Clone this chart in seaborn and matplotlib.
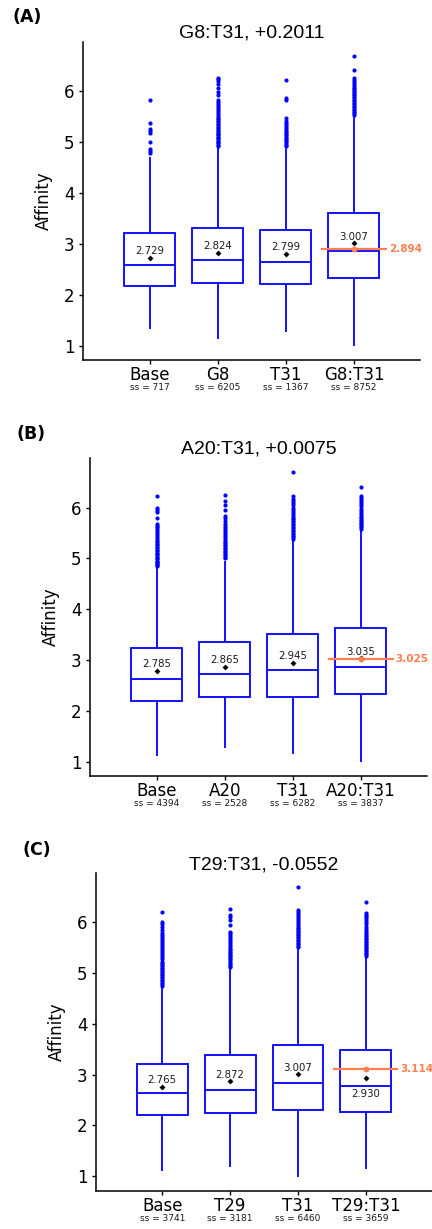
import numpy as np
import pandas as pd
import matplotlib
matplotlib.use("Agg")
import matplotlib.pyplot as plt
import seaborn as sns
from matplotlib.transforms import blended_transform_factory

# ---------------- data ----------------
panel_letters = ["(A)", "(B)", "(C)"]
titles = ["G8:T31, +0.2011", "A20:T31, +0.0075", "T29:T31, -0.0552"]

cats_A = ["Base", "G8", "T31", "G8:T31"]
ss_A = [717, 6205, 1367, 8752]
low_A = [1.32, 1.12, 1.26, 1.00]
q1_A = [2.17, 2.23, 2.20, 2.32]
med_A = [2.585, 2.68, 2.645, 2.856]
q3_A = [3.205, 3.30, 3.28, 3.60]
high_A = [4.71, 4.88, 4.88, 5.50]
means_A = [2.729, 2.824, 2.799, 3.007]
expected_A = 2.894
out_A = [
    [4.79, 4.83, 4.87, 4.99, 5.18, 5.22, 5.25, 5.38, 5.83],
    [4.92, 4.94, 4.97, 5.00, 5.02, 5.05, 5.08, 5.10, 5.13, 5.15, 5.18, 5.21, 5.24,
     5.27, 5.30, 5.33, 5.36, 5.39, 5.42, 5.45, 5.48, 5.51, 5.55, 5.58, 5.62, 5.66,
     5.70, 5.74, 5.78, 5.83, 5.93, 5.99, 6.06, 6.14, 6.20, 6.23, 6.26],
    [4.92, 4.95, 4.98, 5.01, 5.04, 5.07, 5.10, 5.13, 5.16, 5.19, 5.22, 5.26, 5.30,
     5.34, 5.37, 5.42, 5.48, 5.83, 5.86, 6.22],
    [5.53, 5.56, 5.59, 5.62, 5.65, 5.68, 5.71, 5.74, 5.77, 5.80, 5.83, 5.86, 5.89,
     5.92, 5.95, 5.98, 6.01, 6.04, 6.07, 6.10, 6.14, 6.18, 6.22, 6.26, 6.41, 6.68],
]

cats_B = ["Base", "A20", "T31", "A20:T31"]
ss_B = [4394, 2528, 6282, 3837]
low_B = [1.11, 1.26, 1.145, 1.00]
q1_B = [2.19, 2.28, 2.27, 2.33]
med_B = [2.634, 2.73, 2.80, 2.865]
q3_B = [3.244, 3.36, 3.51, 3.626]
high_B = [4.80, 4.95, 5.34, 5.54]
means_B = [2.785, 2.865, 2.945, 3.035]
expected_B = 3.025
out_B = [
    [4.84, 4.86, 4.88, 4.90, 4.93, 4.95, 4.98, 5.00, 5.03, 5.06, 5.08, 5.11, 5.14,
     5.17, 5.20, 5.23, 5.26, 5.29, 5.32, 5.35, 5.38, 5.41, 5.45, 5.49, 5.53, 5.57,
     5.61, 5.64, 5.67, 5.80, 5.92, 5.96, 6.00, 6.22],
    [5.00, 5.03, 5.06, 5.09, 5.12, 5.15, 5.18, 5.21, 5.24, 5.27, 5.30, 5.33, 5.36,
     5.40, 5.44, 5.48, 5.52, 5.56, 5.60, 5.64, 5.67, 5.74, 5.80, 5.84, 5.95, 6.05,
     6.13, 6.24],
    [5.38, 5.41, 5.44, 5.47, 5.50, 5.53, 5.56, 5.59, 5.62, 5.65, 5.68, 5.71, 5.74,
     5.77, 5.80, 5.84, 5.88, 5.92, 5.96, 6.00, 6.04, 6.08, 6.12, 6.16, 6.23, 6.69],
    [5.58, 5.61, 5.64, 5.67, 5.70, 5.73, 5.76, 5.79, 5.82, 5.86, 5.90, 5.94, 5.98,
     6.02, 6.06, 6.10, 6.14, 6.18, 6.23, 6.41],
]

cats_C = ["Base", "T29", "T31", "T29:T31"]
ss_C = [3741, 3181, 6460, 3659]
low_C = [1.105, 1.18, 0.99, 1.13]
q1_C = [2.20, 2.24, 2.30, 2.26]
med_C = [2.637, 2.70, 2.84, 2.77]
q3_C = [3.21, 3.39, 3.58, 3.49]
high_C = [4.70, 5.08, 5.48, 5.31]
means_C = [2.765, 2.872, 3.007, 2.930]
expected_C = 3.114
out_C = [
    [4.75, 4.78, 4.81, 4.84, 4.87, 4.90, 4.93, 4.96, 4.99, 5.02, 5.05, 5.08, 5.11,
     5.14, 5.17, 5.20, 5.23, 5.27, 5.31, 5.35, 5.39, 5.43, 5.47, 5.51, 5.55, 5.59,
     5.63, 5.67, 5.71, 5.75, 5.80, 5.86, 5.92, 5.97, 6.00, 6.21],
    [5.12, 5.15, 5.18, 5.21, 5.24, 5.27, 5.30, 5.33, 5.36, 5.39, 5.42, 5.45, 5.48,
     5.51, 5.55, 5.59, 5.63, 5.67, 5.71, 5.75, 5.79, 5.82, 5.95, 6.05, 6.10, 6.15,
     6.26],
    [5.51, 5.54, 5.57, 5.60, 5.63, 5.66, 5.69, 5.72, 5.75, 5.78, 5.81, 5.84, 5.87,
     5.90, 5.93, 5.96, 6.00, 6.04, 6.08, 6.12, 6.16, 6.20, 6.25, 6.69],
    [5.34, 5.37, 5.40, 5.43, 5.46, 5.49, 5.52, 5.55, 5.58, 5.61, 5.64, 5.67, 5.70,
     5.73, 5.76, 5.80, 5.84, 5.88, 5.92, 5.96, 6.00, 6.04, 6.08, 6.12, 6.15, 6.18,
     6.41],
]

# ---------------- styling ----------------
sns.set_style("ticks")
plt.rcParams["font.family"] = ["DejaVu Sans"]
plt.rcParams["text.color"] = "black"
plt.rcParams["axes.labelcolor"] = "black"
plt.rcParams["xtick.color"] = "black"
plt.rcParams["ytick.color"] = "black"

BLUE = "#0000FF"
CORAL = "#FF7F50"
W, H = 432, 1229


def expand(lo, q1, med, q3, hi, outliers):
    m = len(outliers) + 1
    return [lo] * m + [q1] * m + [med] * m + [q3, hi] + list(outliers)


panels = [
    dict(cats=cats_A, ss=ss_A, low=low_A, q1=q1_A, med=med_A, q3=q3_A, high=high_A,
         means=means_A, expected=expected_A, out=out_A,
         rect=(83, 42, 337, 318), letter_xy=(12, 17), below=set()),
    dict(cats=cats_B, ss=ss_B, low=low_B, q1=q1_B, med=med_B, q3=q3_B, high=high_B,
         means=means_B, expected=expected_B, out=out_B,
         rect=(90, 458, 337, 318), letter_xy=(17, 434), below=set()),
    dict(cats=cats_C, ss=ss_C, low=low_C, q1=q1_C, med=med_C, q3=q3_C, high=high_C,
         means=means_C, expected=expected_C, out=out_C,
         rect=(95.7, 873, 336, 318), letter_xy=(23, 850), below={3}),
]

fig = plt.figure(figsize=(W / 100, H / 100), dpi=100)

for k, p in enumerate(panels):
    x0, y0, w, h = p["rect"]
    ax = fig.add_axes([x0 / W, 1 - (y0 + h) / H, w / W, h / H])

    rows = []
    for i, c in enumerate(p["cats"]):
        for v in expand(p["low"][i], p["q1"][i], p["med"][i], p["q3"][i],
                        p["high"][i], p["out"][i]):
            rows.append((c, v))
    df = pd.DataFrame(rows, columns=["group", "Affinity"])

    sns.boxplot(data=df, x="group", y="Affinity", order=p["cats"], ax=ax,
                color="white", linecolor=BLUE, linewidth=1.3, width=0.75,
                showcaps=False, whis=1.5,
                flierprops=dict(marker="o", markersize=3.0, markerfacecolor=BLUE,
                                markeredgecolor=BLUE, markeredgewidth=0))

    # mean points
    sns.stripplot(x=p["cats"], y=p["means"], order=p["cats"], jitter=False,
                  marker="D", size=3.0, color="black", linewidth=0, ax=ax, zorder=6)

    # expected line + point for the interaction group
    last = len(p["cats"]) - 1
    ax.plot([last - 0.48, last + 0.48], [p["expected"]] * 2, color=CORAL,
            lw=1.6, zorder=5, solid_capstyle="butt")
    sns.stripplot(x=[p["cats"][-1]], y=[p["expected"]], order=p["cats"],
                  jitter=False, marker="o", size=4.2, color=CORAL, linewidth=0,
                  ax=ax, zorder=7)
    ax.text(last + 0.51, p["expected"], f"{p['expected']:.3f}", color=CORAL,
            fontsize=7.5, fontweight="bold", ha="left", va="center", clip_on=False)

    # mean labels
    for i, mval in enumerate(p["means"]):
        if i in p["below"]:
            ty = p["med"][i] - 0.16
        else:
            ty = mval + 0.13
        ax.text(i, ty, f"{mval:.3f}", ha="center", va="center", fontsize=7.3,
                color="#1a1a1a", zorder=8)

    # sample-size labels under the category names
    trans = blended_transform_factory(ax.transData, ax.transAxes)
    for i, n in enumerate(p["ss"]):
        ax.text(i, -0.088, f"ss = {n}", transform=trans, ha="center", va="center",
                fontsize=6.5, color="#1a1a1a")

    # axes limits (ggplot-like 5% expansion)
    allv = df["Affinity"].to_numpy()
    lo, hi = allv.min(), allv.max()
    r = hi - lo
    ax.set_ylim(lo - 0.05 * r, hi + 0.05 * r)
    ax.set_xlim(-0.98, 3.97)
    ax.set_yticks([1, 2, 3, 4, 5, 6])
    ax.set_xlabel("")
    ax.set_ylabel("Affinity", fontsize=12, labelpad=8)
    ax.set_title(titles[k], fontsize=14, family="Liberation Sans", pad=1.5,
                 color="black")
    ax.tick_params(axis="both", length=3, width=1, colors="black", direction="out")
    ax.tick_params(axis="x", labelsize=12, pad=1.5)
    ax.tick_params(axis="y", labelsize=12, pad=3)
    sns.despine(ax=ax)
    for s in ("left", "bottom"):
        ax.spines[s].set_linewidth(1.1)
        ax.spines[s].set_color("black")

    lx, ly = p["letter_xy"]
    fig.text(lx / W, 1 - ly / H, panel_letters[k], fontsize=12.5, fontweight="bold",
             ha="left", va="center", color="black")

fig.savefig("out.png", dpi=100)
